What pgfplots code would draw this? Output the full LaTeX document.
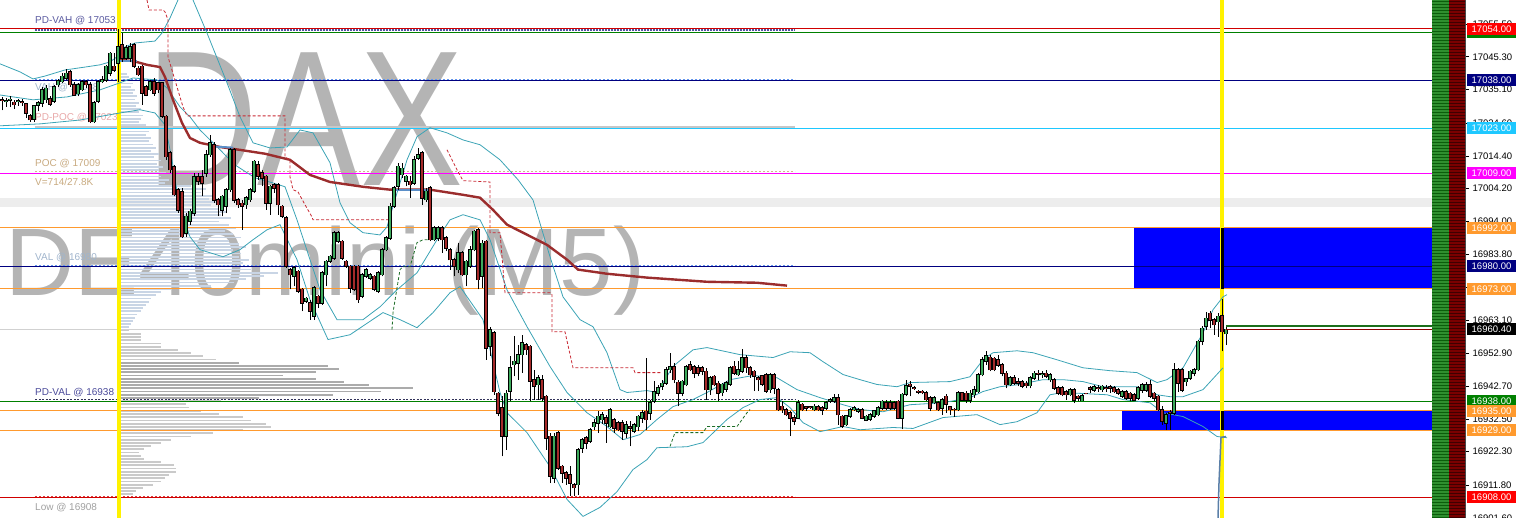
\documentclass[border=0pt]{standalone}
\usepackage{fontspec}
\setmainfont{Liberation Sans}
\usepackage{pgfplots}
\pgfplotsset{compat=1.18}
\usepackage{pgfplotstable}
\usetikzlibrary{patterns}
\definecolor{cup}{HTML}{3DAA5C}
\definecolor{cdn}{HTML}{A52A2A}
\definecolor{bband}{HTML}{3BA3B5}
\definecolor{maline}{HTML}{9B2D2D}
\definecolor{orng}{HTML}{FF9A2E}
\definecolor{navyc}{HTML}{000080}
\definecolor{skyc}{HTML}{1EC8FF}
\definecolor{magc}{HTML}{FF00FF}
\definecolor{grnc}{HTML}{008000}
\definecolor{redc}{HTML}{D00000}
\definecolor{wmark}{HTML}{B4B4B4}
\definecolor{vpblue}{HTML}{C9D5E5}
\definecolor{vpdark}{HTML}{ABABAB}
\definecolor{vplight}{HTML}{CACACA}
\definecolor{barG}{HTML}{2F8F2F}
\definecolor{barGd}{HTML}{0B5D0B}
\definecolor{barR}{HTML}{7A0000}
\definecolor{barRd}{HTML}{3E0000}
\definecolor{zoneb}{HTML}{0000FF}

\pgfplotstableread{
x o h l c
2 17031.9 17032.9 17028.6 17031.7
6 17031.4 17032.4 17029.8 17031.6
10 17031.7 17033.0 17029.6 17032.0
14 17031.1 17031.9 17029.0 17030.4
18 17031.4 17032.0 17030.0 17031.5
22 17031.2 17032.0 17030.0 17031.0
26 17030.6 17030.9 17026.2 17027.7
30 17027.0 17027.4 17025.1 17025.7
34 17025.9 17030.3 17025.1 17030.0
38 17030.3 17031.4 17028.3 17030.9
42 17030.9 17036.0 17029.6 17035.0
46 17031.9 17036.5 17031.0 17035.5
50 17032.2 17033.0 17030.0 17030.6
54 17031.4 17036.6 17030.9 17036.0
58 17036.6 17038.5 17036.0 17037.9
62 17037.6 17040.2 17037.0 17039.2
66 17038.6 17041.4 17038.1 17040.2
70 17040.7 17041.2 17036.0 17036.6
74 17036.6 17037.6 17033.1 17033.4
78 17033.8 17037.1 17033.0 17036.6
82 17035.0 17038.1 17034.5 17037.6
86 17037.5 17038.1 17035.5 17036.6
90 17036.6 17037.3 17024.6 17025.1
94 17025.1 17031.4 17024.6 17030.9
98 17031.4 17038.1 17030.9 17037.6
102 17037.6 17039.2 17037.1 17038.1
106 17038.1 17042.8 17037.6 17042.3
110 17040.2 17046.9 17039.2 17046.4
114 17042.3 17046.4 17040.7 17041.2
118 17043.3 17054.0 17037.6 17048.5
122 17049.0 17052.6 17043.8 17044.9
126 17044.9 17049.0 17044.3 17048.0
130 17044.9 17049.5 17043.8 17048.5
134 17049.0 17049.5 17041.7 17042.3
138 17041.7 17042.3 17039.2 17039.7
142 17042.3 17042.8 17030.3 17034.0
146 17036.0 17036.6 17033.0 17033.4
150 17035.0 17038.1 17034.5 17037.6
154 17037.6 17038.6 17033.1 17034.0
158 17037.1 17037.6 17034.0 17035.0
162 17037.1 17037.6 17026.2 17026.7
166 17026.7 17027.2 17013.2 17014.2
170 17015.3 17015.8 17009.1 17010.1
174 17011.1 17011.6 17001.8 17002.3
178 17003.9 17004.4 16996.6 16997.6
182 17003.3 17004.4 16988.8 16989.3
186 16990.4 16996.6 16989.3 16995.6
190 16994.0 16998.0 16993.0 16997.1
194 16996.6 17009.1 16995.6 17008.0
198 17008.0 17009.1 17005.5 17006.5
202 17008.0 17010.1 17001.8 17005.9
206 17009.1 17016.3 17008.0 17014.8
210 17014.8 17021.0 17014.2 17018.4
214 17017.9 17018.9 16999.7 17000.7
218 17000.7 17001.3 16995.6 16999.2
222 16997.6 17002.3 16995.6 17001.8
226 16998.7 17004.4 16996.6 17003.9
230 17003.9 17016.8 17003.3 17016.3
234 17016.3 17016.8 16999.7 17000.7
238 17000.7 17001.3 16998.2 16999.2
242 16999.7 17000.8 16991.4 16998.7
246 16999.2 17002.0 16998.0 17001.3
250 17000.8 17004.4 17000.0 17003.9
254 17003.4 17013.2 17002.9 17012.7
258 17011.7 17012.7 17007.0 17008.1
262 17009.1 17010.1 17005.0 17007.5
266 17008.1 17008.6 16997.7 16999.7
270 16999.7 17005.5 16996.1 17004.9
274 17005.5 17006.0 17003.0 17004.4
278 17005.5 17006.0 16996.1 16999.2
282 16998.7 16999.2 16995.0 16995.6
286 16995.1 16995.6 16979.5 16980.0
290 16979.0 16979.5 16972.8 16977.4
294 16976.9 16980.0 16973.8 16979.5
298 16978.5 16979.0 16971.7 16972.2
302 16972.8 16973.3 16966.0 16968.6
306 16969.1 16970.5 16968.6 16970.0
310 16968.6 16969.6 16963.4 16966.0
314 16964.5 16973.8 16963.4 16973.3
318 16970.7 16971.2 16967.0 16968.6
322 16968.6 16978.5 16968.1 16978.0
326 16977.4 16982.1 16973.8 16981.6
330 16981.6 16983.6 16981.0 16983.1
334 16982.6 16990.9 16982.1 16990.4
338 16987.8 16990.9 16987.3 16990.4
342 16987.8 16988.3 16982.1 16982.6
346 16981.6 16982.1 16979.5 16980.0
350 16980.0 16980.5 16971.7 16973.3
354 16980.0 16980.5 16972.2 16972.8
358 16980.0 16980.5 16968.6 16969.6
362 16970.7 16977.9 16970.0 16977.4
366 16976.9 16979.5 16976.4 16979.0
370 16976.4 16978.0 16975.9 16977.4
374 16976.9 16977.4 16972.2 16972.8
378 16972.2 16978.5 16971.7 16978.0
382 16977.4 16985.7 16976.9 16985.2
386 16985.2 16989.4 16984.7 16988.8
390 16988.8 16999.7 16988.3 16998.7
394 16998.7 17004.9 16998.2 17004.4
398 17004.9 17012.2 17003.9 17011.2
402 17008.6 17012.2 17007.5 17010.6
406 17006.5 17008.6 17004.9 17008.1
410 17006.5 17008.1 17001.3 17005.5
414 17006.0 17014.3 17005.5 17013.2
418 17013.8 17016.9 17013.2 17014.8
422 17015.3 17015.8 16999.2 17001.3
426 17000.8 17004.4 17000.0 17003.4
430 17004.4 17004.9 16987.8 16988.3
434 16988.3 16992.5 16987.8 16992.0
438 16988.8 16992.5 16987.8 16992.0
442 16992.0 16992.5 16984.2 16988.3
446 16988.8 16989.4 16984.7 16985.7
450 16985.2 16985.7 16979.0 16982.1
454 16982.1 16982.6 16976.9 16980.0
458 16979.0 16987.3 16978.0 16984.2
462 16984.2 16984.7 16976.9 16977.4
466 16977.4 16982.1 16973.8 16981.6
470 16980.0 16986.3 16979.5 16985.2
474 16985.2 16991.4 16984.7 16990.9
478 16991.4 16991.9 16972.8 16975.9
482 16976.9 16988.3 16973.2 16987.2
486 16987.8 16988.3 16950.9 16954.5
490 16955.1 16961.0 16952.0 16960.2
494 16959.2 16960.0 16940.0 16941.0
498 16940.5 16941.0 16933.3 16934.3
502 16935.9 16939.5 16920.8 16927.0
506 16927.0 16941.6 16922.9 16940.5
510 16941.1 16952.0 16938.0 16948.3
514 16949.4 16958.2 16945.7 16950.4
518 16949.9 16955.6 16944.7 16952.5
522 16952.5 16958.7 16946.8 16956.1
526 16955.6 16956.1 16952.5 16954.0
530 16955.1 16955.6 16937.9 16944.2
534 16944.7 16947.8 16938.4 16942.6
538 16943.1 16946.2 16938.4 16945.2
542 16944.7 16946.2 16937.9 16939.0
546 16939.5 16940.0 16922.9 16926.5
550 16927.0 16928.1 16912.5 16914.6
554 16914.1 16928.1 16912.5 16927.0
558 16928.1 16928.6 16916.7 16917.2
562 16917.7 16918.2 16912.5 16915.6
566 16915.6 16916.2 16912.0 16914.1
570 16915.1 16917.7 16908.3 16912.5
574 16912.0 16912.5 16908.4 16911.0
578 16912.0 16923.3 16908.9 16922.9
582 16923.4 16926.5 16922.0 16926.0
586 16926.5 16927.0 16923.0 16924.9
590 16925.5 16929.6 16924.9 16929.1
594 16930.1 16932.5 16929.1 16931.2
598 16931.2 16934.8 16928.1 16933.3
602 16932.2 16934.5 16931.0 16933.8
606 16932.8 16933.8 16925.0 16931.2
610 16930.1 16935.9 16929.6 16935.3
614 16932.2 16932.7 16928.1 16929.6
618 16931.2 16931.7 16928.6 16929.1
622 16931.2 16932.2 16926.0 16928.6
626 16928.1 16931.7 16926.5 16930.7
630 16930.1 16931.7 16923.9 16929.6
634 16928.6 16931.2 16928.0 16930.7
638 16930.1 16933.8 16928.6 16933.3
642 16932.7 16935.3 16931.2 16934.3
646 16934.8 16951.4 16929.1 16932.2
650 16934.3 16938.4 16932.2 16937.4
654 16937.9 16944.2 16937.4 16941.0
658 16940.5 16943.0 16939.5 16942.1
662 16942.6 16944.5 16941.5 16943.6
666 16943.6 16948.8 16943.1 16947.8
670 16947.8 16953.0 16946.8 16948.8
674 16948.8 16949.9 16943.6 16944.7
678 16943.9 16944.7 16936.4 16940.5
682 16940.5 16944.7 16939.5 16944.2
686 16943.1 16949.4 16942.6 16948.8
690 16949.4 16950.4 16947.3 16947.8
694 16948.8 16949.4 16945.2 16946.8
698 16948.3 16949.2 16945.7 16946.8
702 16948.3 16949.0 16946.0 16947.3
706 16947.3 16948.3 16938.4 16941.6
710 16941.6 16945.7 16940.0 16945.2
714 16945.7 16946.3 16942.6 16943.1
718 16943.6 16944.2 16938.0 16940.5
722 16940.6 16943.7 16939.5 16943.2
726 16941.8 16944.2 16941.0 16943.7
730 16943.2 16948.9 16942.7 16948.4
734 16948.9 16950.4 16946.2 16946.8
738 16946.3 16950.4 16945.8 16947.8
742 16947.3 16954.3 16946.8 16951.5
746 16951.5 16952.5 16946.8 16948.4
750 16948.4 16948.9 16945.3 16946.3
754 16947.3 16947.8 16941.1 16945.8
758 16945.2 16945.8 16941.1 16944.7
762 16945.8 16946.3 16942.7 16943.2
766 16946.3 16946.8 16940.6 16941.1
770 16941.6 16946.8 16940.6 16946.3
774 16946.3 16946.8 16940.1 16942.1
778 16941.6 16942.1 16934.9 16935.4
782 16936.4 16938.0 16934.4 16935.4
786 16935.4 16935.9 16933.3 16933.8
790 16934.3 16934.9 16927.1 16932.8
794 16932.8 16933.8 16930.7 16931.8
798 16932.8 16938.5 16932.3 16937.5
802 16937.0 16937.5 16934.9 16935.4
806 16936.2 16936.6 16934.9 16935.9
810 16936.2 16936.5 16935.5 16936.0
814 16935.4 16937.0 16934.9 16936.4
818 16936.2 16936.8 16935.0 16935.4
822 16935.9 16936.4 16933.8 16935.2
826 16935.9 16938.0 16935.4 16937.5
830 16938.0 16939.0 16937.5 16938.5
834 16938.0 16940.1 16937.5 16939.0
838 16939.0 16940.1 16930.7 16933.8
842 16933.3 16933.8 16929.7 16930.2
846 16930.7 16933.8 16930.2 16933.5
850 16933.3 16935.9 16932.8 16935.4
854 16935.4 16936.4 16934.9 16935.9
858 16934.9 16936.0 16934.4 16935.4
862 16935.4 16935.9 16932.3 16932.8
866 16932.0 16933.8 16931.7 16933.3
870 16932.3 16934.3 16931.8 16933.8
874 16933.3 16935.4 16932.8 16934.9
878 16933.8 16936.4 16933.3 16935.9
882 16935.9 16938.5 16935.4 16938.0
886 16937.5 16938.5 16935.4 16935.9
890 16937.5 16938.5 16935.4 16935.9
894 16937.5 16938.0 16935.4 16935.9
898 16938.0 16938.5 16932.3 16932.8
902 16932.8 16940.6 16929.2 16940.1
906 16940.1 16944.7 16939.5 16942.7
910 16943.2 16944.2 16939.5 16942.7
914 16942.2 16942.7 16941.6 16942.0
918 16941.1 16941.6 16940.1 16940.8
922 16941.1 16941.6 16940.1 16940.6
926 16940.6 16941.1 16938.0 16938.5
930 16939.0 16939.5 16934.9 16935.9
934 16937.5 16939.5 16937.0 16939.0
938 16937.5 16938.0 16934.9 16935.4
942 16935.9 16939.0 16933.8 16938.5
946 16939.5 16940.1 16934.4 16937.0
950 16936.2 16936.6 16933.8 16935.4
954 16935.5 16935.9 16933.1 16935.4
958 16935.4 16941.1 16934.9 16940.6
962 16940.7 16941.0 16937.9 16938.4
966 16940.5 16941.1 16937.4 16938.4
970 16938.4 16941.5 16937.4 16940.5
974 16940.0 16942.6 16939.0 16941.5
978 16941.0 16946.7 16940.5 16946.2
982 16946.2 16951.9 16945.7 16950.9
986 16950.4 16953.5 16949.4 16952.2
990 16951.7 16952.5 16947.3 16947.8
994 16951.4 16951.9 16947.3 16947.8
998 16950.9 16952.5 16948.8 16949.3
1002 16949.3 16949.9 16945.7 16946.7
1006 16946.7 16947.3 16942.0 16943.1
1010 16943.1 16945.7 16942.6 16945.2
1014 16945.2 16946.2 16943.1 16943.6
1018 16944.1 16945.2 16942.6 16943.6
1022 16944.1 16944.7 16942.0 16942.6
1026 16943.6 16944.2 16942.0 16942.8
1030 16942.8 16945.7 16942.0 16945.2
1034 16945.2 16947.3 16944.7 16946.7
1038 16946.7 16947.8 16944.7 16946.5
1042 16946.2 16947.3 16945.2 16946.5
1046 16946.7 16947.8 16945.2 16945.7
1050 16944.7 16946.7 16944.1 16946.2
1054 16944.7 16945.2 16941.5 16942.1
1058 16942.1 16942.6 16940.0 16940.5
1062 16942.1 16942.6 16939.5 16940.0
1066 16941.0 16941.5 16938.4 16940.0
1070 16940.0 16942.1 16939.5 16941.5
1074 16941.5 16942.1 16937.4 16938.4
1078 16939.5 16940.0 16937.9 16939.0
1082 16938.2 16940.1 16937.9 16939.7
1086 16940.5 16940.7 16940.3 16940.4
1090 16942.1 16942.6 16940.5 16941.8
1094 16941.5 16942.9 16941.0 16942.4
1098 16942.2 16943.1 16941.0 16942.0
1102 16941.6 16943.1 16941.0 16942.6
1106 16942.2 16943.1 16941.0 16942.0
1110 16942.4 16943.1 16940.5 16942.1
1114 16942.1 16942.6 16940.5 16941.0
1118 16941.5 16942.1 16940.0 16940.5
1122 16939.5 16941.5 16939.0 16941.0
1126 16941.0 16941.5 16938.4 16939.0
1130 16940.5 16941.0 16937.9 16939.0
1134 16940.0 16940.5 16937.9 16938.4
1138 16939.0 16942.6 16938.4 16942.1
1142 16941.5 16943.6 16940.5 16943.1
1146 16941.5 16944.1 16941.0 16943.1
1150 16943.1 16944.7 16939.0 16939.5
1154 16940.5 16941.0 16937.9 16939.0
1158 16939.5 16940.0 16934.8 16935.3
1162 16935.3 16936.4 16930.7 16931.7
1166 16931.2 16934.3 16929.0 16933.8
1170 16934.5 16935.3 16929.1 16934.3
1174 16934.3 16949.9 16933.8 16947.8
1178 16947.8 16948.3 16941.0 16943.6
1182 16947.8 16948.3 16941.0 16941.5
1186 16944.1 16945.2 16942.6 16944.9
1190 16945.2 16947.8 16944.7 16947.3
1194 16946.7 16948.3 16945.7 16947.8
1198 16947.8 16957.1 16947.3 16956.6
1202 16956.6 16961.3 16955.5 16960.7
1206 16961.3 16965.9 16960.2 16963.8
1210 16965.4 16966.0 16960.7 16963.3
1214 16963.3 16964.0 16958.7 16961.8
1218 16962.8 16965.4 16958.0 16964.4
1222 16964.6 16969.8 16953.5 16959.7
1226 16959.0 16961.3 16955.5 16960.4
}\candles

% volume profile, upper part (bluish)
\pgfplotstableread{
p l
17040 6
17039 8
17038 10
17037 12
17036 10
17035 14
17034 12
17033 16
17032 14
17031 18
17030 15
17029 20
17028 18
17027 22
17026 20
17025 18
17024 25
17023 22
17022 28
17021 25
17020 30
17019 28
17018 32
17017 35
17016 30
17015 38
17014 33
17013 40
17012 36
17011 42
17010 38
17009 45
17008 40
17007 48
17006 44
17005 70
17004 85
17003 80
17002 92
17001 88
17000 95
16999 90
16998 98
16997 105
16996 100
16995 110
16994 98
16993 108
16992 115
16991 104
16990 112
16989 120
16988 108
16987 118
16986 125
16985 112
16984 120
16983 118
16982 128
16981 122
16980 118
16979 130
16978 157
16977 143
16976 125
16975 113
16974 90
16973 50
16972 40
16971 35
16970 30
16969 28
16968 25
16967 22
16966 20
16965 16
16964 14
16963 12
16962 10
16961 8
}\vpup

\pgfplotstableread{
p l
16950 118
16949 207
16948 218
16947 195
16946 162
16945 195
16944 223
16943 248
16942 292
16941 260
16940 212
16939 138
}\vpmid

\pgfplotstableread{
p l
16960 8
16959 20
16958 20
16957 20
16956 40
16955 40
16954 57
16953 70
16952 82
16951 95
16938 100
16937 65
16936 68
16935 80
16934 98
16933 122
16932 130
16931 145
16930 150
16929 122
16928 92
16927 70
16926 50
16925 40
16924 30
16923 23
16922 18
16921 20
16920 23
16919 40
16918 53
16917 55
16916 55
16915 48
16914 44
16913 40
16912 32
16911 22
16910 15
16909 12
16908 6
}\vplow

\newcommand{\pbox}[3]{\node[fill=#2, text=white, minimum width=49pt, minimum height=12pt, inner sep=0pt, font=\fontsize{9.5}{11}\selectfont] at (axis cs:1491.5,#1) {#3};}

\pgfplotsset{
  nomark/.style={only marks, mark=*, mark size=0pt, mark options={draw=none, fill=none, draw opacity=0, fill opacity=0}},
}

\begin{document}
\begin{tikzpicture}
\useasboundingbox (0,0) rectangle (1520pt,518pt);
\begin{axis}[
  at={(0,0)}, anchor=south west,
  width=1465pt, height=518pt, scale only axis,
  xmin=0, xmax=1465, ymin=16901.6, ymax=17063,
  axis x line=none, axis y line*=right,
  clip mode=individual,
  scaled y ticks=false,
  ytick={17055.5,17045.3,17035.1,17024.6,17014.4,17004.2,16994.0,16983.8,16973.5,16963.1,16952.9,16942.7,16932.5,16922.3,16911.8,16901.6},
  tick align=outside, major tick length=4pt,
  y axis line style={black!70, line width=0.6pt},
  ytick style={black, line width=0.6pt},
  /pgf/number format/assume math mode=true,
  yticklabel style={font=\fontsize{9.5}{11}\selectfont, /pgf/number format/fixed, /pgf/number format/fixed zerofill, /pgf/number format/precision=2, /pgf/number format/1000 sep={}},
]
% gray band
\addplot[fill=black!7, draw=none] coordinates {(0,16998.5) (1432,16998.5) (1432,17001.2) (0,17001.2)} -- cycle;
% blue zones
\addplot[fill=zoneb, draw=none] coordinates {(1134,16973) (1432,16973) (1432,16992) (1134,16992)} -- cycle;
\addplot[fill=zoneb, draw=none] coordinates {(1122,16929) (1432,16929) (1432,16935) (1122,16935)} -- cycle;

% watermark text
\node[anchor=base, text=wmark, font=\fontsize{193}{200}\selectfont, xscale=0.8, inner sep=0pt] at (axis cs:305,17005.1) {DAX};
\node[anchor=base west, text=wmark, font=\fontsize{96}{110}\selectfont, inner sep=0pt] at (axis cs:5,16970.9) {DE40mini (M5)};

% volume profile
\addplot[nomark, error bars/.cd, x dir=plus, x explicit, error mark=none, error bar style={line width=1.8pt, color=vpblue}] table[x expr=121, y=p, x error=l] {\vpup};
\addplot[nomark, error bars/.cd, x dir=plus, x explicit, error mark=none, error bar style={line width=1.8pt, color=vpdark}] table[x expr=121, y=p, x error=l] {\vpmid};
\addplot[nomark, error bars/.cd, x dir=plus, x explicit, error mark=none, error bar style={line width=1.8pt, color=vplight}] table[x expr=121, y=p, x error=l] {\vplow};

% full-width level lines
\addplot[redc, line width=0.8pt] coordinates {(0,17054) (1432,17054)};
\addplot[grnc, line width=0.8pt] coordinates {(0,17053) (1432,17053)};
\addplot[navyc, line width=0.8pt] coordinates {(0,17038) (1432,17038)};
\addplot[skyc, line width=0.8pt] coordinates {(0,17023) (1432,17023)};
\addplot[magc, line width=0.8pt] coordinates {(0,17009) (1432,17009)};
\addplot[orng, line width=0.8pt] coordinates {(0,16992) (1432,16992)};
\addplot[navyc, line width=0.8pt] coordinates {(0,16980) (1432,16980)};
\addplot[orng, line width=0.8pt] coordinates {(0,16973) (1432,16973)};
\addplot[black!18, line width=0.8pt] coordinates {(0,16960.4) (1432,16960.4)};
\addplot[grnc, line width=0.8pt] coordinates {(0,16938) (1432,16938)};
\addplot[orng, line width=0.8pt] coordinates {(0,16935) (1432,16935)};
\addplot[orng, line width=0.8pt] coordinates {(0,16929) (1432,16929)};
\addplot[redc, line width=0.8pt] coordinates {(0,16908) (1432,16908)};

% previous-day / profile dotted lines
\addplot[color={rgb,255:red,80;green,80;blue,160}, line width=2pt, dash pattern=on 1.5pt off 1.5pt] coordinates {(35,17053.5) (795,17053.5)};
\addplot[color={rgb,255:red,100;green,149;blue,237}, line width=0.8pt, dash pattern=on 2pt off 2pt] coordinates {(35,17038.3) (795,17038.3)};
\addplot[black!22, line width=2pt] coordinates {(35,17023.4) (795,17023.4)};
\addplot[color={rgb,255:red,210;green,180;blue,140}, line width=0.8pt, dash pattern=on 2pt off 2pt] coordinates {(35,17009.5) (795,17009.5)};
\addplot[color={rgb,255:red,100;green,149;blue,237}, line width=0.8pt, dash pattern=on 2pt off 2pt] coordinates {(35,16980.3) (795,16980.3)};
\addplot[color={rgb,255:red,50;green,50;blue,90}, line width=1.2pt, dash pattern=on 2pt off 1.5pt] coordinates {(35,16938.6) (795,16938.6)};
\addplot[color={rgb,255:red,220;green,60;blue,60}, line width=0.8pt, dash pattern=on 2pt off 2pt] coordinates {(35,16908.3) (795,16908.3)};

% yellow verticals
\addplot[yellow, line width=4pt] coordinates {(119,16901.6) (119,17063)};
\addplot[yellow, line width=4pt] coordinates {(1222,16901.6) (1222,17063)};
\addplot[black, line width=3pt] coordinates {(1222,16973) (1222,16992)};
\addplot[black, line width=3pt] coordinates {(1222,16929) (1222,16935)};

% left labels
\node[anchor=west, text={rgb,255:red,90;green,90;blue,160}, font=\fontsize{10}{12}\selectfont, inner sep=0pt] at (axis cs:35,17056.6) {PD-VAH @ 17053};
\node[anchor=west, text={rgb,255:red,160;green,180;blue,204}, font=\fontsize{10}{12}\selectfont, inner sep=0pt] at (axis cs:35,17035.6) {VAH @ 17038};
\node[anchor=west, text={rgb,255:red,232;green,168;blue,168}, font=\fontsize{10}{12}\selectfont, inner sep=0pt] at (axis cs:35,17026.3) {PD-POC @ 17023};
\node[anchor=west, text={rgb,255:red,200;green,170;blue,128}, font=\fontsize{10}{12}\selectfont, inner sep=0pt] at (axis cs:35,17012.0) {POC @ 17009};
\node[anchor=west, text={rgb,255:red,200;green,170;blue,128}, font=\fontsize{10}{12}\selectfont, inner sep=0pt] at (axis cs:35,17006.4) {V=714/27.8K};
\node[anchor=west, text={rgb,255:red,160;green,180;blue,204}, font=\fontsize{10}{12}\selectfont, inner sep=0pt] at (axis cs:35,16982.7) {VAL @ 16980};
\node[anchor=west, text={rgb,255:red,74;green,74;blue,154}, font=\fontsize{10}{12}\selectfont, inner sep=0pt] at (axis cs:35,16940.7) {PD-VAL @ 16938};
\node[anchor=west, text={rgb,255:red,160;green,160;blue,160}, font=\fontsize{10}{12}\selectfont, inner sep=0pt] at (axis cs:35,16904.9) {Low @ 16908};

% bands
\addplot[bband, line width=0.8pt] coordinates {(0,17043.1) (20,17040.6) (33,17038.4) (45,17039.3) (65,17041.2) (85,17042.1) (100,17042.8) (110,17043.7) (117,17045.3) (125,17048.4) (135,17049.6) (155,17050.2) (162,17052.7) (170,17057.4) (178,17063.0) (185,17067.7) (193,17063.0) (207,17052.7) (227,17037.2) (240,17026.6) (253,17018.5) (270,17016.9) (287,17017.2) (300,17022.5) (313,17021.6) (330,17012.3) (340,16999.8) (350,16993.6) (363,16990.5) (380,16989.8) (387,16992.3) (397,17002.9) (407,17013.2) (417,17020.4) (430,17023.2) (447,17021.6) (463,17019.4) (480,17017.9) (500,17013.2) (518,17007.0) (533,17000.7) (550,16983.0) (563,16970.5) (580,16963.4) (593,16961.2) (607,16953.1) (620,16941.6) (627,16940.7) (647,16941.3) (657,16940.7) (673,16948.8) (693,16954.0) (707,16954.7) (740,16952.5) (773,16951.6) (790,16953.4) (810,16953.1) (823,16950.3) (843,16946.3) (860,16944.7) (877,16943.2) (897,16942.5) (910,16943.8) (950,16944.1) (970,16945.6) (983,16950.9) (993,16953.1) (1017,16953.7) (1033,16953.1) (1057,16950.9) (1083,16948.4) (1110,16947.5) (1137,16946.9) (1157,16943.8) (1167,16944.7) (1183,16948.4) (1203,16959.3) (1213,16966.5) (1223,16970.5) (1227,16971.2)};
\addplot[bband, line width=0.8pt] coordinates {(0,17033.4) (33,17031.9) (67,17032.8) (100,17035.0) (120,17037.2) (133,17038.7) (157,17038.1) (167,17035.6) (180,17029.7) (190,17026.6) (200,17022.5) (215,17017.9) (235,17011.6) (255,17007.6) (273,17006.0) (285,17004.8) (297,16994.5) (310,16982.1) (320,16972.7) (337,16963.4) (363,16963.4) (380,16967.4) (397,16972.7) (417,16978.0) (437,16988.3) (450,16994.5) (463,16996.1) (480,16994.5) (490,16988.3) (507,16972.7) (527,16961.2) (550,16948.8) (567,16940.7) (587,16934.4) (607,16930.1) (623,16926.0) (640,16927.6) (657,16932.3) (673,16936.3) (693,16938.5) (707,16940.7) (730,16944.7) (753,16946.0) (777,16945.3) (797,16941.6) (820,16939.1) (843,16936.9) (860,16935.4) (883,16934.7) (910,16936.9) (943,16937.5) (970,16939.1) (983,16941.0) (1000,16942.5) (1017,16943.1) (1043,16944.7) (1063,16944.7) (1083,16944.1) (1103,16942.5) (1137,16942.5) (1157,16940.0) (1170,16939.4) (1183,16939.4) (1203,16941.6) (1223,16948.4)};
\addplot[bband, line width=0.8pt] coordinates {(0,17023.8) (40,17024.4) (80,17025.6) (120,17027.8) (140,17028.8) (155,17027.8) (165,17024.1) (172,17013.2) (180,16997.6) (190,16989.2) (200,16985.2) (223,16983.0) (240,16985.2) (253,16988.3) (267,16991.4) (280,16993.0) (297,16982.1) (310,16969.6) (328,16957.2) (350,16958.7) (383,16965.6) (400,16963.4) (417,16960.9) (433,16965.6) (450,16971.8) (460,16973.7) (483,16963.4) (500,16940.7) (507,16934.4) (527,16928.2) (550,16917.6) (567,16907.4) (583,16902.1) (600,16904.9) (617,16909.8) (633,16916.7) (647,16919.8) (657,16923.5) (687,16923.8) (703,16925.1) (727,16932.3) (743,16936.0) (760,16938.5) (777,16939.1) (790,16936.0) (803,16931.3) (820,16928.5) (843,16930.1) (860,16929.1) (893,16929.8) (913,16929.5) (943,16932.9) (977,16933.8) (1000,16930.7) (1017,16931.6) (1037,16934.4) (1050,16940.0) (1063,16940.7) (1107,16940.0) (1123,16938.5) (1150,16937.5) (1163,16934.4) (1183,16933.2) (1203,16930.1) (1217,16927.0) (1227,16926.6)};

% moving average
\addplot[maline, line width=2.4pt] coordinates {(120,17044.3) (133,17044.0) (147,17042.8) (160,17042.1) (165,17039.0) (173,17031.9) (182,17024.7) (190,17020.0) (200,17018.5) (220,17017.2) (240,17016.3) (265,17015.1) (290,17013.2) (310,17008.5) (330,17006.3) (363,17004.8) (390,17003.9) (430,17003.9) (463,17002.3) (480,17001.4) (493,16997.6) (507,16993.0) (523,16990.5) (547,16986.7) (567,16982.1) (578,16979.0) (607,16977.7) (647,16976.5) (707,16975.2) (757,16974.9) (787,16974.0)};
\addplot[color={rgb,255:red,91;green,143;blue,200}, line width=2pt] coordinates {(118,17044.0) (137,17044.0)};
\addplot[color={rgb,255:red,91;green,143;blue,200}, line width=2pt] coordinates {(210,17017.4) (233,17017.0)};
\addplot[color={rgb,255:red,91;green,143;blue,200}, line width=2pt] coordinates {(393,17003.9) (430,17003.9)};

% dashed step lines
\addplot[color={rgb,255:red,200;green,40;blue,50}, line width=0.8pt, dash pattern=on 3pt off 2pt] coordinates {(147,17063.0) (149,17059.9) (163,17059.9) (165,17059.3) (168,17056.8) (168,17045.3) (177,17035.9) (183,17029.7) (187,17026.9) (285,17026.9) (285,17014.1) (290,17013.2) (290,17007.9) (293,17003.9) (298,17003.2) (305,16999.2) (312,16995.4) (313,16994.5) (390,16994.5)};
\addplot[color={rgb,255:red,200;green,40;blue,50}, line width=0.8pt, dash pattern=on 3pt off 2pt] coordinates {(447,17016.3) (457,17010.1) (463,17006.7) (490,17006.3) (490,16990.5) (500,16990.5) (505,16971.8) (550,16971.8) (552,16971.2) (552,16959.6) (565,16959.6) (573,16948.4) (633,16948.4) (635,16946.9) (662,16946.9)};
\addplot[color={rgb,255:red,30;green,110;blue,40}, line width=0.8pt, dash pattern=on 3pt off 2pt] coordinates {(392,16960.3) (393,16965.6) (400,16979.0) (403,16979.9) (410,16979.9) (417,16987.4) (423,16988.3) (430,16988.3)};
\addplot[color={rgb,255:red,30;green,110;blue,40}, line width=0.8pt, dash pattern=on 3pt off 2pt] coordinates {(670,16923.9) (675,16928.2) (703,16928.2) (707,16930.1) (737,16930.1) (747,16934.4) (750,16935.4)};

% candles: wicks
\addplot[nomark, error bars/.cd, y dir=plus, y explicit, error mark=none, error bar style={line width=0.8pt, black}] table[x=x, y=l, y error plus expr=\thisrow{h}-\thisrow{l}] {\candles};
% up bodies
\addplot[nomark, restrict expr to domain={\thisrow{c}-\thisrow{o}}{0:1000}, error bars/.cd, y dir=plus, y explicit, error mark=none, error bar style={line width=3.2pt, black}] table[x=x, y expr=\thisrow{o}-0.2, y error plus expr=\thisrow{c}-\thisrow{o}+0.4] {\candles};
\addplot[nomark, restrict expr to domain={\thisrow{c}-\thisrow{o}}{0:1000}, error bars/.cd, y dir=plus, y explicit, error mark=none, error bar style={line width=1.8pt, cup}] table[x=x, y=o, y error plus expr=\thisrow{c}-\thisrow{o}] {\candles};
% down bodies
\addplot[nomark, restrict expr to domain={\thisrow{o}-\thisrow{c}}{0.001:1000}, error bars/.cd, y dir=plus, y explicit, error mark=none, error bar style={line width=3.2pt, black}] table[x=x, y expr=\thisrow{c}-0.2, y error plus expr=\thisrow{o}-\thisrow{c}+0.4] {\candles};
\addplot[nomark, restrict expr to domain={\thisrow{o}-\thisrow{c}}{0.001:1000}, error bars/.cd, y dir=plus, y explicit, error mark=none, error bar style={line width=1.8pt, cdn}] table[x=x, y=c, y error plus expr=\thisrow{o}-\thisrow{c}] {\candles};

% bid / ask lines at right
\addplot[color={rgb,255:red,26;green,110;blue,26}, line width=2pt] coordinates {(1226,16961.5) (1432,16961.5)};
\addplot[color={rgb,255:red,139;green,0;blue,0}, line width=0.8pt] coordinates {(1226,16960.5) (1432,16960.5)};
\addplot[color={rgb,255:red,91;green,127;blue,168}, line width=1.5pt] coordinates {(1218,16901.6) (1219,16912.6) (1221,16926.7) (1226,16927.0)};

% right strength bars
\addplot[fill=barG, draw=none] coordinates {(1432,16901.6) (1449,16901.6) (1449,17063) (1432,17063)} -- cycle;
\addplot[pattern=horizontal lines, pattern color=barGd, draw=none] coordinates {(1432,16901.6) (1449,16901.6) (1449,17063) (1432,17063)} -- cycle;
\addplot[fill=barR, draw=none] coordinates {(1449,16901.6) (1465,16901.6) (1465,17063) (1449,17063)} -- cycle;
\addplot[pattern=horizontal lines, pattern color=barRd, draw=none] coordinates {(1449,16901.6) (1465,16901.6) (1465,17063) (1449,17063)} -- cycle;

% price boxes
\pbox{17053.0}{grnc}{}
\pbox{17054}{red}{17054.00}
\pbox{17038}{navyc}{17038.00}
\pbox{17023}{skyc}{17023.00}
\pbox{17009}{magc}{17009.00}
\pbox{16992}{orng}{16992.00}
\pbox{16980}{navyc}{16980.00}
\pbox{16973}{orng}{16973.00}
\pbox{16960.4}{black}{16960.40}
\pbox{16938}{grnc}{16938.00}
\pbox{16935}{orng}{16935.00}
\pbox{16929}{orng}{16929.00}
\pbox{16908}{red}{16908.00}
\end{axis}
\end{tikzpicture}
\end{document}
